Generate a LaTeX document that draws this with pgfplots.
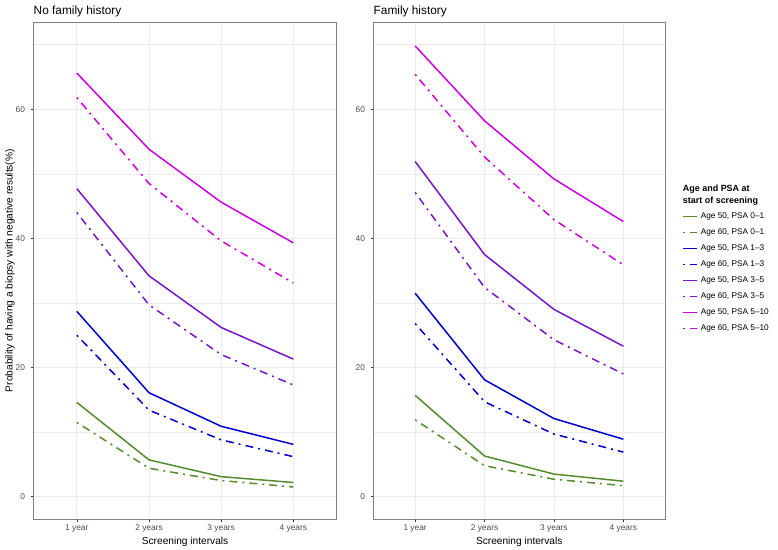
\documentclass[border=0pt]{standalone}
\usepackage{pgfplots}
\pgfplotsset{compat=1.18}
\usepackage{pgfplotstable}
\usepackage{fontspec}
\setmainfont{Liberation Sans}

\definecolor{cgreen}{RGB}{84,139,46}
\definecolor{cblue}{RGB}{0,0,205}
\definecolor{cpurple}{RGB}{118,22,200}
\definecolor{cmag}{RGB}{204,0,221}
\definecolor{gridc}{RGB}{235,235,235}

% probability (%) of a negative biopsy, by screening interval
\pgfplotstableread{
x a50p01 a60p01 a50p13 a60p13 a50p35 a60p35 a50p510 a60p510
1 14.6 11.5 28.7 25.0 47.7 44.0 65.6 61.8
2 5.7 4.4 16.1 13.4 34.2 29.7 53.8 48.5
3 3.1 2.5 10.9 8.8 26.2 22.0 45.6 39.6
4 2.2 1.5 8.1 6.2 21.3 17.3 39.3 33.1
}\nofh
\pgfplotstableread{
x a50p01 a60p01 a50p13 a60p13 a50p35 a60p35 a50p510 a60p510
1 15.7 11.9 31.5 26.8 51.9 47.1 69.8 65.4
2 6.3 4.8 18.1 14.7 37.5 32.4 58.2 52.6
3 3.5 2.7 12.1 9.7 29.0 24.3 49.2 42.9
4 2.4 1.7 8.9 6.9 23.3 19.0 42.6 35.9
}\fh

\pgfplotsset{
  panel/.style={
    scale only axis, height=497.3bp,
    xmin=0.4, xmax=4.6, ymin=-3.5, ymax=73.5,
    xtick={1,2,3,4}, xticklabels={1 year,2 years,3 years,4 years},
    ytick={0,20,40,60}, minor ytick={10,30,50,70},
    xtick pos=bottom, ytick pos=left,
    grid=both,
    major grid style={gridc, line width=0.9bp},
    minor grid style={gridc, line width=0.45bp},
    axis line style={black!50, line width=0.8bp},
    tick align=outside, major tick length=2.8bp, minor tick length=0pt,
    tick style={black!80, line width=0.6bp},
    /pgf/number format/assume math mode=true,
    tick label style={font=\fontsize{8.4}{10}\selectfont, text=black!70},
    xticklabel style={anchor=base, inner sep=0pt, yshift=-8.5bp},
    yticklabel style={anchor=east, inner sep=0pt, xshift=-5.5bp},
    xlabel={Screening intervals},
    xlabel style={at={(axis description cs:0.5,-0.050)}, anchor=base,
      inner sep=0pt, font=\fontsize{10.2}{12}\selectfont},
  },
  ln/.style={line width=1.5bp},
  dd/.style={line width=1.5bp, dash pattern=on 2bp off 5bp on 8bp off 5bp},
}

\begin{document}
\begin{tikzpicture}
  \begin{axis}[panel, at={(33.5bp,30.7bp)}, anchor=south west, width=303.2bp,
      ylabel={Probability of having a biopsy with negative results(\%)},
      ylabel style={at={(axis description cs:-0.0775,0.5)}, anchor=center,
        inner sep=0pt, font=\fontsize{10.2}{12}\selectfont}]
    \addplot[ln, cgreen] table[x=x, y=a50p01] {\nofh};
    \addplot[dd, cgreen] table[x=x, y=a60p01] {\nofh};
    \addplot[ln, cblue] table[x=x, y=a50p13] {\nofh};
    \addplot[dd, cblue] table[x=x, y=a60p13] {\nofh};
    \addplot[ln, cpurple] table[x=x, y=a50p35] {\nofh};
    \addplot[dd, cpurple] table[x=x, y=a60p35] {\nofh};
    \addplot[ln, cmag] table[x=x, y=a50p510] {\nofh};
    \addplot[dd, cmag] table[x=x, y=a60p510] {\nofh};
  \end{axis}

  \begin{axis}[panel, at={(373.5bp,30.7bp)}, anchor=south west, width=291.5bp,
      legend cell align=left,
      legend image code/.code={\draw[#1] (0bp,0bp) -- (14bp,0bp);},
      legend style={at={(axis description cs:1.0607,0.6246)}, anchor=north west,
        draw=none, fill=none, inner sep=0pt, outer sep=0pt,
        row sep=0pt, column sep=2.6bp,
        nodes={inner sep=0pt, minimum height=16bp, anchor=west,
          font=\fontsize{8.3}{10}\selectfont}}]
    \addplot[ln, cgreen] table[x=x, y=a50p01] {\fh};
    \addlegendentry{Age 50, PSA 0–1}
    \addplot[dd, cgreen] table[x=x, y=a60p01] {\fh};
    \addlegendentry{Age 60, PSA 0–1}
    \addplot[ln, cblue] table[x=x, y=a50p13] {\fh};
    \addlegendentry{Age 50, PSA 1–3}
    \addplot[dd, cblue] table[x=x, y=a60p13] {\fh};
    \addlegendentry{Age 60, PSA 1–3}
    \addplot[ln, cpurple] table[x=x, y=a50p35] {\fh};
    \addlegendentry{Age 50, PSA 3–5}
    \addplot[dd, cpurple] table[x=x, y=a60p35] {\fh};
    \addlegendentry{Age 60, PSA 3–5}
    \addplot[ln, cmag] table[x=x, y=a50p510] {\fh};
    \addlegendentry{Age 50, PSA 5–10}
    \addplot[dd, cmag] table[x=x, y=a60p510] {\fh};
    \addlegendentry{Age 60, PSA 5–10}
  \end{axis}

  % panel titles
  \node[anchor=base west, inner sep=0pt, font=\fontsize{11.9}{14}\selectfont]
    at (33.5bp,535.7bp) {No family history};
  \node[anchor=base west, inner sep=0pt, font=\fontsize{11.9}{14}\selectfont]
    at (373.5bp,535.7bp) {Family history};

  % legend title
  \node[anchor=base west, inner sep=0pt, font=\fontsize{9}{11}\selectfont\bfseries]
    at (682.7bp,358bp) {Age and PSA at};
  \node[anchor=base west, inner sep=0pt, font=\fontsize{9}{11}\selectfont\bfseries]
    at (682.7bp,346.3bp) {start of screening};

  \pgfresetboundingbox
  \useasboundingbox (0,0) rectangle (778bp,550bp);
\end{tikzpicture}
\end{document}
